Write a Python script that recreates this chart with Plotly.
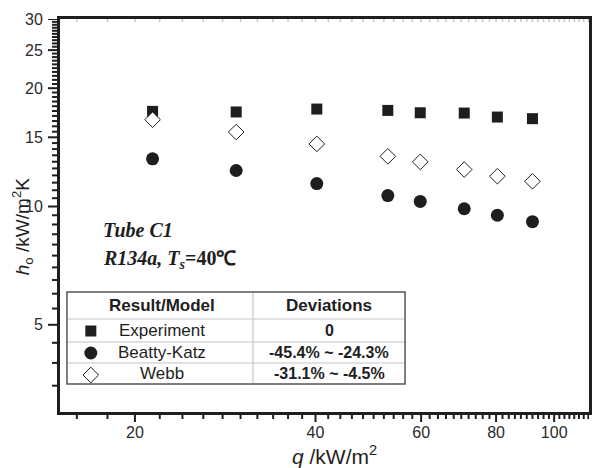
import numpy as np
import plotly.graph_objects as go

# Heat flux q (kW/m^2) and heat transfer coefficient h_o (kW/m^2K)
q = [21.4, 29.5, 40.2, 52.8, 59.8, 70.8, 80.4, 92.0]
h_experiment = [17.46, 17.40, 17.70, 17.56, 17.32, 17.29, 16.89, 16.73]
h_beatty_katz = [13.22, 12.35, 11.44, 10.66, 10.30, 9.87, 9.50, 9.15]
h_webb = [16.63, 15.47, 14.43, 13.42, 12.99, 12.42, 11.94, 11.59]

series_names = ["Experiment", "Beatty-Katz", "Webb"]
deviations = ["0", "-45.4% ~ -24.3%", "-31.1% ~ -4.5%"]

x_ticks = [20, 40, 60, 80, 100]
y_ticks = [5, 10, 15, 20, 25, 30]

# Canvas and plot-area geometry (pixels)
W, H = 592, 468
L, R, T, B = 60, 592, 19, 412


def px(xp):
    return (xp - L) / (R - L)


def py(yp):
    return (B - yp) / (B - T)


INK = "#1e1e1e"
SANS = "Liberation Sans"
SERIF = "Liberation Serif"

styles = [
    dict(symbol="square", size=11, color=INK, line=dict(width=0)),
    dict(symbol="circle", size=13, color=INK, line=dict(width=0)),
    dict(symbol="diamond", size=12, color="white", line=dict(width=1, color=INK)),
]

fig = go.Figure()
for name, h, st in zip(series_names, [h_experiment, h_beatty_katz, h_webb], styles):
    fig.add_trace(go.Scatter(x=q, y=h, mode="markers", name=name, marker=st,
                             showlegend=False, cliponaxis=False))

x_minor = [float(v) for v in np.arange(16, 115, 2) if v not in x_ticks]
y_minor = [round(float(v), 1) for v in np.arange(3.5, 30.01, 0.5) if v not in y_ticks]

# Tick marks are drawn as shapes below; the axis ticks only reserve label spacing
axis_common = dict(
    showline=True, linewidth=3, linecolor=INK, mirror=True,
    ticks="outside", tickwidth=1, tickcolor="rgba(0,0,0,0)",
    showgrid=False, zeroline=False,
    tickfont=dict(family=SANS, size=16, color="#2a2a2a"),
)

fig.update_layout(
    width=W, height=H,
    margin=dict(l=L, r=W - R, t=T, b=H - B),
    paper_bgcolor="white", plot_bgcolor="white",
    xaxis=dict(type="log", range=[np.log10(15), np.log10(114.3)],
               tickmode="array", tickvals=x_ticks, ticklen=4,
               **axis_common),
    yaxis=dict(type="log", range=[np.log10(3), np.log10(30)],
               tickmode="array", tickvals=y_ticks, ticklen=11,
               **axis_common),
)


def x_tick(v, start, end, color=INK, width=2):
    fig.add_shape(type="line", xref="x", yref="paper",
                  ysizemode="pixel", yanchor=0, y0=start, y1=end,
                  x0=v, x1=v, line=dict(color=color, width=width))


def y_tick(v, start, end):
    fig.add_shape(type="line", xref="paper", yref="y",
                  xsizemode="pixel", xanchor=0, x0=start, x1=end,
                  y0=v, y1=v, line=dict(color=INK, width=2))


# Bottom axis ticks
for v in x_minor:
    x_tick(v, -1, -7)
for v in x_ticks:
    x_tick(v, -1, -10)
# Faint ticks hanging from the top frame
for v in x_minor + x_ticks:
    fig.add_shape(type="line", xref="x", yref="paper",
                  ysizemode="pixel", yanchor=1, y0=0, y1=-3,
                  x0=v, x1=v, line=dict(color="#c8c8c8", width=1.5))
# Left axis ticks
for v in y_minor:
    y_tick(v, -1, -8)
for v in y_ticks:
    y_tick(v, -1, -12)

# Axis titles
fig.add_annotation(text="<i>q</i> /kW/m<sup>2</sup>", xref="paper", yref="paper",
                   x=px(336), y=py(455), xanchor="center", yanchor="middle",
                   showarrow=False, font=dict(family=SANS, size=21, color=INK))
fig.add_annotation(text="<i>h</i><sub>o</sub> /kW/m<sup>2</sup>K", xref="paper", yref="paper",
                   x=px(22), y=py(226), xanchor="center", yanchor="middle",
                   textangle=-90, showarrow=False,
                   font=dict(family=SANS, size=19, color=INK))

# Test condition labels
fig.add_annotation(text="<b><i>Tube C1</i></b>", xref="paper", yref="paper",
                   x=px(101), y=py(230), xanchor="left", yanchor="middle",
                   showarrow=False, font=dict(family=SERIF, size=20, color=INK))
fig.add_annotation(text="<b><i>R134a, T<sub>s</sub></i>=40\u2103</b>", xref="paper", yref="paper",
                   x=px(101), y=py(259), xanchor="left", yanchor="middle",
                   showarrow=False, font=dict(family=SERIF, size=20, color=INK))

# Legend table frame
tx0, tx1, tdiv = 67, 407, 254
rows = [292, 319, 342, 363, 384]
for yl in rows[1:-1]:
    fig.add_shape(type="line", xref="paper", yref="paper",
                  x0=px(tx0), x1=px(tx1), y0=py(yl), y1=py(yl),
                  line=dict(color="#c4c4c4", width=1.2))
fig.add_shape(type="line", xref="paper", yref="paper",
              x0=px(tdiv), x1=px(tdiv), y0=py(rows[0]), y1=py(rows[-1]),
              line=dict(color="#c4c4c4", width=1.2))
fig.add_shape(type="rect", xref="paper", yref="paper",
              x0=px(tx0), x1=px(tx1), y0=py(rows[0]), y1=py(rows[-1]),
              line=dict(color="#555555", width=1.5), fillcolor="rgba(0,0,0,0)")

# Legend keys (symbols drawn as pixel-sized shapes anchored in the table)
key_x = px(91)
key_rows = [py(331), py(353), py(375)]
fig.add_shape(type="rect", xref="paper", yref="paper",
              xsizemode="pixel", ysizemode="pixel",
              xanchor=key_x, yanchor=key_rows[0],
              x0=-5.5, x1=5.5, y0=-5.5, y1=5.5,
              fillcolor=INK, line=dict(width=0))
fig.add_shape(type="circle", xref="paper", yref="paper",
              xsizemode="pixel", ysizemode="pixel",
              xanchor=key_x, yanchor=key_rows[1],
              x0=-6.5, x1=6.5, y0=-6.5, y1=6.5,
              fillcolor=INK, line=dict(width=0))
fig.add_shape(type="path", xref="paper", yref="paper",
              xsizemode="pixel", ysizemode="pixel",
              xanchor=key_x, yanchor=key_rows[2],
              path="M -7.8 0 L 0 7.8 L 7.8 0 L 0 -7.8 Z",
              fillcolor="white", line=dict(width=1, color=INK))

col1_x, col2_x = px(163), px(331)
head_y = py(306)
fig.add_annotation(text="<b>Result/Model</b>", xref="paper", yref="paper",
                   x=col1_x, y=head_y, xanchor="center", yanchor="middle",
                   showarrow=False, font=dict(family=SANS, size=17, color=INK))
fig.add_annotation(text="<b>Deviations</b>", xref="paper", yref="paper",
                   x=col2_x, y=head_y, xanchor="center", yanchor="middle",
                   showarrow=False, font=dict(family=SANS, size=17, color=INK))
row_y = [py(330.5), py(352.5), py(373.5)]
for name, dev, ry in zip(series_names, deviations, row_y):
    fig.add_annotation(text=name, xref="paper", yref="paper",
                       x=col1_x, y=ry, xanchor="center", yanchor="middle",
                       showarrow=False, font=dict(family=SANS, size=17, color=INK))
    fig.add_annotation(text="<b>" + dev + "</b>", xref="paper", yref="paper",
                       x=col2_x, y=ry, xanchor="center", yanchor="middle",
                       showarrow=False, font=dict(family=SANS, size=16, color=INK))

fig.write_html("out.html")
